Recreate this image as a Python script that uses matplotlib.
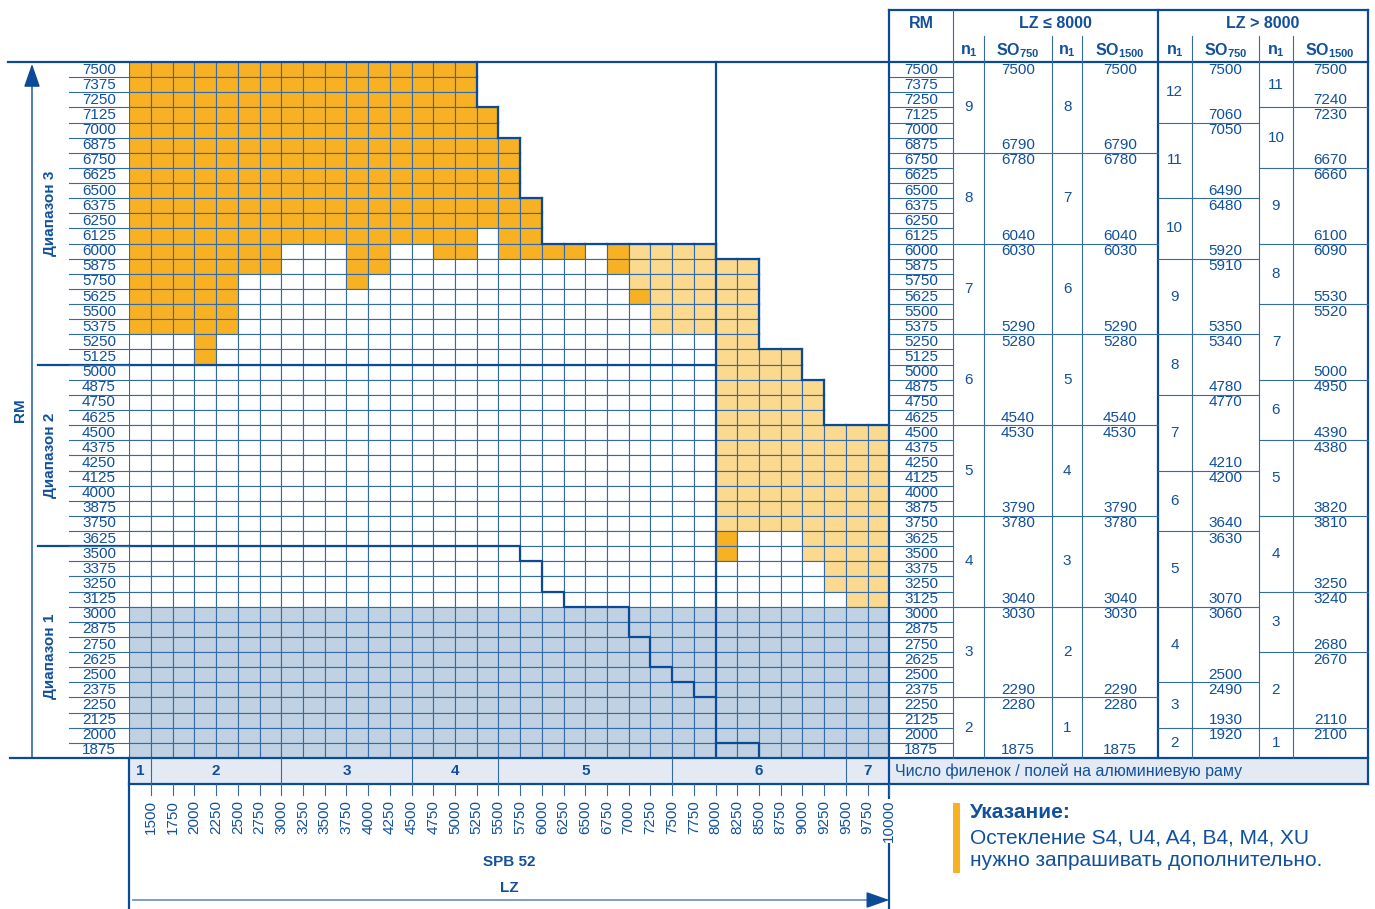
import matplotlib
matplotlib.use("Agg")
import matplotlib.pyplot as plt
from matplotlib.patches import Rectangle
from matplotlib.transforms import blended_transform_factory

plt.rcParams["font.family"] = ["Liberation Sans", "DejaVu Sans"]
plt.rcParams["mathtext.fontset"] = "custom"
plt.rcParams["mathtext.rm"] = "Liberation Sans"
plt.rcParams["mathtext.bf"] = "Liberation Sans:bold"

# rows (RM) and columns (LZ)
rm_rows = list(range(7500, 1874, -125))
lz_ticks = list(range(1500, 10001, 250))
lz_edges = [1250] + lz_ticks

# one string per RM row, one char per LZ column (1250-1500 ... 9750-10000)
# O = orange, o = light orange, B = blue, . = white cell, - = no cell
cell_map = [
    "OOOOOOOOOOOOOOOO-------------------",  # 7500
    "OOOOOOOOOOOOOOOO-------------------",  # 7375
    "OOOOOOOOOOOOOOOO-------------------",  # 7250
    "OOOOOOOOOOOOOOOOO------------------",  # 7125
    "OOOOOOOOOOOOOOOOO------------------",  # 7000
    "OOOOOOOOOOOOOOOOOO-----------------",  # 6875
    "OOOOOOOOOOOOOOOOOO-----------------",  # 6750
    "OOOOOOOOOOOOOOOOOO-----------------",  # 6625
    "OOOOOOOOOOOOOOOOOO-----------------",  # 6500
    "OOOOOOOOOOOOOOOOOOO----------------",  # 6375
    "OOOOOOOOOOOOOOOOOOO----------------",  # 6250
    "OOOOOOOOOOOOOOOO.OO----------------",  # 6125
    "OOOOOOO...OO..OO.OOOO.Ooooo--------",  # 6000
    "OOOOOOO...OO..........Ooooooo------",  # 5875
    "OOOOO.....O............oooooo------",  # 5750
    "OOOOO..................Oooooo------",  # 5625
    "OOOOO...................ooooo------",  # 5500
    "OOOOO...................ooooo------",  # 5375
    "...O.......................oo------",  # 5250
    "...O.......................oooo----",  # 5125
    "...........................oooo----",  # 5000
    "...........................ooooo---",  # 4875
    "...........................ooooo---",  # 4750
    "...........................ooooo---",  # 4625
    "...........................oooooooo",  # 4500
    "...........................oooooooo",  # 4375
    "...........................oooooooo",  # 4250
    "...........................oooooooo",  # 4125
    "...........................oooooooo",  # 4000
    "...........................oooooooo",  # 3875
    "...........................oooooooo",  # 3750
    "...........................O...oooo",  # 3625
    "...........................O...oooo",  # 3500
    "................................ooo",  # 3375
    "................................ooo",  # 3250
    ".................................oo",  # 3125
    "BBBBBBBBBBBBBBBBBBBBBBBBBBBBBBBBBBB",  # 3000
    "BBBBBBBBBBBBBBBBBBBBBBBBBBBBBBBBBBB",  # 2875
    "BBBBBBBBBBBBBBBBBBBBBBBBBBBBBBBBBBB",  # 2750
    "BBBBBBBBBBBBBBBBBBBBBBBBBBBBBBBBBBB",  # 2625
    "BBBBBBBBBBBBBBBBBBBBBBBBBBBBBBBBBBB",  # 2500
    "BBBBBBBBBBBBBBBBBBBBBBBBBBBBBBBBBBB",  # 2375
    "BBBBBBBBBBBBBBBBBBBBBBBBBBBBBBBBBBB",  # 2250
    "BBBBBBBBBBBBBBBBBBBBBBBBBBBBBBBBBBB",  # 2125
    "BBBBBBBBBBBBBBBBBBBBBBBBBBBBBBBBBBB",  # 2000
    "BBBBBBBBBBBBBBBBBBBBBBBBBBBBBBBBBBB",  # 1875
]
assert all(len(r) == len(lz_ticks) for r in cell_map) and len(cell_map) == len(rm_rows)

# limit lines
range_split_rm = [5062.5, 3562.5]
range1_lz = [1250, 5750, 5750, 6000, 6000, 6250, 6250, 7000, 7000, 7250, 7250, 7500, 7500, 7750, 7750, 8000]
range1_rm = [3562.5, 3562.5, 3437.5, 3437.5, 3187.5, 3187.5, 3062.5, 3062.5, 2812.5, 2812.5,
             2562.5, 2562.5, 2437.5, 2437.5, 2312.5, 2312.5]
corner_lz = [8000, 8500, 8500]
corner_rm = [1937.5, 1937.5, 1812.5]
range_names = ["Диапазон 3", "Диапазон 2", "Диапазон 1"]
range_mid_rm = [6312.5, 4312.5, 2650]

# panel count band
band_edges = [1250, 1500, 3000, 4500, 5500, 7500, 9500, 10000]
band_labels = ["1", "2", "3", "4", "5", "6", "7"]

# table: LZ <= 8000
le_sizes = [6, 6, 6, 6, 6, 6, 6, 4]
le_n1_750 = [9, 8, 7, 6, 5, 4, 3, 2]
le_n1_1500 = [8, 7, 6, 5, 4, 3, 2, 1]
le_so_top = [7500, 6780, 6030, 5280, 4530, 3780, 3030, 2280]
le_so_bot = [6790, 6040, 5290, 4540, 3790, 3040, 2290, 1875]
# table: LZ > 8000
gt_sizes_750 = [4, 5, 4, 5, 4, 5, 4, 5, 5, 3, 2]
gt_n1_750 = [12, 11, 10, 9, 8, 7, 6, 5, 4, 3, 2]
gt_so750_top = [7500, 7050, 6480, 5910, 5340, 4770, 4200, 3630, 3060, 2490, 1920]
gt_so750_bot = [7060, 6490, 5920, 5350, 4780, 4210, 3640, 3070, 2500, 1930, None]
gt_sizes_1500 = [3, 4, 5, 4, 5, 4, 5, 5, 4, 5, 2]
gt_n1_1500 = [11, 10, 9, 8, 7, 6, 5, 4, 3, 2, 1]
gt_so1500_top = [7500, 7230, 6660, 6090, 5520, 4950, 4380, 3810, 3240, 2670, 2100]
gt_so1500_bot = [7240, 6670, 6100, 5530, 5000, 4390, 3820, 3250, 2680, 2110, None]

# colours
TXT = "#11509c"
DARK = "#0b4a96"
GRID = "#356aa9"
fills = {"O": "#f7b122", "o": "#fbd98f", "B": "#bfd1e3", ".": "white"}
BAND = "#e3eaf3"

W, H = 1375, 909
GL, GR, GT, GB = 129.3, 889.3, 62, 758
TR = 1367.7
tcols = [889.3, 953.3, 984, 1052, 1082.3, 1157.7, 1191.7, 1259.3, 1292.7, 1367.7]

fig = plt.figure(figsize=(W / 100, H / 100), dpi=100)
ax = fig.add_axes([GL / W, 1 - GB / H, (GR - GL) / W, (GB - GT) / H])
half = (rm_rows[0] - rm_rows[1]) / 2
ax.set_xlim(lz_edges[0], lz_edges[-1])
ax.set_ylim(rm_rows[-1] - half, rm_rows[0] + half)
ax.axis("off")

ov = fig.add_axes([0, 0, 1, 1], zorder=5)
ov.set_xlim(0, W)
ov.set_ylim(H, 0)
ov.axis("off")
ov.patch.set_alpha(0)

bt = blended_transform_factory(ov.transData, ax.transData)  # x pixels, y RM
bx = blended_transform_factory(ax.transData, ov.transData)  # x LZ, y pixels

tk = dict(color=TXT, fontsize=11)
thin = dict(color=GRID, lw=0.8, clip_on=False)
thick = dict(color=DARK, lw=1.6, clip_on=False, solid_capstyle="projecting")

# cells
ncol = len(lz_ticks)
for i, (rm, row) in enumerate(zip(rm_rows, cell_map)):
    for j, ch in enumerate(row):
        if ch == "-":
            continue
        x0, x1 = lz_edges[j], lz_edges[j + 1]
        ax.add_patch(Rectangle((x0, rm - half), x1 - x0, 2 * half,
                               fc=fills[ch], ec=GRID, lw=0.8))
        if j + 1 < ncol and row[j + 1] == "-":
            ax.plot([x1, x1], [rm - half, rm + half], **thick)
        if i > 0 and cell_map[i - 1][j] == "-":
            ax.plot([x0, x1], [rm + half, rm + half], **thick)

ax.axvline(8000, **thick)
ax.plot([lz_edges[0], 8000], [range_split_rm[0]] * 2, **thick)
ax.plot(range1_lz, range1_rm, **thick)
ax.plot(corner_lz, corner_rm, **thick)
for y in range_split_rm:
    ov.plot([38, GL], [y, y], transform=bt, **thick)

# left labels
for k, rm in enumerate(rm_rows):
    ov.text(116, rm, str(rm), transform=bt, ha="right", va="center", **tk)
    ov.text((tcols[0] + tcols[1]) / 2, rm, str(rm), transform=bt, ha="center", va="center", **tk)
    if k < len(rm_rows) - 1:
        ov.plot([69, GL], [rm - half] * 2, transform=bt, **thin)
        ov.plot([tcols[0], tcols[1]], [rm - half] * 2, transform=bt, **thin)

for name, y in zip(range_names, range_mid_rm):
    ov.text(50, y, name, transform=bt, rotation=90, ha="center", va="center",
            fontweight="bold", **tk)
ov.text(20, sum(ax.get_ylim()) / 2, "RM", transform=bt, rotation=90, ha="center",
        va="center", fontweight="bold", **tk)
ov.annotate("", xy=(32, 64), xytext=(32, GB),
            arrowprops=dict(arrowstyle="-|>,head_length=0.8,head_width=0.28",
                            color=DARK, lw=1.0, mutation_scale=18, shrinkA=0, shrinkB=0))

# frame lines
ov.plot([8, TR], [GT, GT], **thick)
ov.plot([10, TR], [GB, GB], **thick)
ov.plot([tcols[0], TR], [10, 10], **thick)
ov.plot([tcols[0], tcols[0]], [10, 909], **thick)
ov.plot([TR, TR], [10, 784], **thick)
ov.plot([GL, GL], [GB, 909], **thick)
ov.plot([tcols[1], tcols[1]], [10, GB], **thin)
ov.plot([tcols[5], tcols[5]], [10, GB], **thick)
for c in [tcols[2], tcols[3], tcols[4], tcols[6], tcols[7], tcols[8]]:
    ov.plot([c, c], [36, GB], **thin)

# table header
hb = dict(color=TXT, fontsize=11.5, fontweight="bold", ha="center", va="center")
ov.text((tcols[0] + tcols[1]) / 2, 23, "RM", **hb)
ov.text((tcols[1] + tcols[5]) / 2, 23, "LZ ≤ 8000", **hb)
ov.text((tcols[5] + tcols[9]) / 2, 23, "LZ > 8000", **hb)
for a in [1, 3, 5, 7]:
    ov.text((tcols[a] + tcols[a + 1]) / 2, 51, r"$\mathbf{n}_{\mathbf{1}}$", **hb)
for a, sub in [(2, "750"), (4, "1500"), (6, "750"), (8, "1500")]:
    ov.text((tcols[a] + tcols[a + 1]) / 2, 51, r"$\mathbf{SO}_{\mathbf{%s}}$" % sub, **hb)


def draw_groups(c_n1, c_so, sizes, n1_vals, tops, bots):
    start = 0
    x_n1 = (tcols[c_n1] + tcols[c_n1 + 1]) / 2
    x_so = (tcols[c_so] + tcols[c_so + 1]) / 2
    for size, n, top, bot in zip(sizes, n1_vals, tops, bots):
        rows = rm_rows[start:start + size]
        ov.text(x_n1, (rows[0] + rows[-1]) / 2, str(n), transform=bt,
                ha="center", va="center", **tk)
        ov.text(x_so, rows[0], str(top), transform=bt, ha="center", va="center", **tk)
        if bot is not None:
            ov.text(x_so, rows[-1], str(bot), transform=bt, ha="center", va="center", **tk)
        start += size
        if start < len(rm_rows):
            y = rows[-1] - half
            ov.plot([tcols[c_n1], tcols[c_so + 1]], [y, y], transform=bt, **thin)


draw_groups(1, 2, le_sizes, le_n1_750, le_so_top, le_so_bot)
draw_groups(3, 4, le_sizes, le_n1_1500, le_so_top, le_so_bot)
draw_groups(5, 6, gt_sizes_750, gt_n1_750, gt_so750_top, gt_so750_bot)
draw_groups(7, 8, gt_sizes_1500, gt_n1_1500, gt_so1500_top, gt_so1500_bot)

# band with panel counts
ov.add_patch(Rectangle((GL, GB), TR - GL, 26, fc=BAND, ec="none", zorder=0))
ov.plot([GL, TR], [784, 784], **thick)
for e in band_edges[1:-1]:
    ov.plot([e, e], [GB, 784], transform=bx, **thin)
for e0, e1, lab in zip(band_edges[:-1], band_edges[1:], band_labels):
    ov.text((e0 + e1) / 2, 771, lab, transform=bx, ha="center", va="center",
            fontweight="bold", **tk)
ov.text(895, 771, "Число филенок / полей на алюминиевую раму", ha="left",
        va="center", color=TXT, fontsize=11.5)

# LZ axis
for lz in lz_ticks:
    ov.plot([lz, lz], [784, 795], transform=bx, **thin)
    ov.text(lz, 800, str(lz), transform=bx, rotation=90, ha="center", va="top",
            bbox=dict(fc="white", ec="none", pad=0.5) if lz == lz_ticks[-1] else None, **tk)
mid = (lz_edges[0] + lz_edges[-1]) / 2
ov.text(mid, 862, "SPB 52", transform=bx, ha="center", va="center", fontweight="bold", **tk)
ov.text(mid, 888, "LZ", transform=bx, ha="center", va="center", fontweight="bold", **tk)
ov.plot([133, 880], [900, 900], color="#7d9dc9", lw=1.4)
ov.annotate("", xy=(GR, 900), xytext=(870, 900),
            arrowprops=dict(arrowstyle="-|>,head_length=0.8,head_width=0.28",
                            color=DARK, lw=1.0, mutation_scale=18, shrinkA=0, shrinkB=0))

# note
ov.add_patch(Rectangle((953, 803), 7, 70, fc=fills["O"], ec="none"))
ov.text(970, 812, "Указание:", ha="left", va="center", color=TXT, fontsize=15, fontweight="bold")
ov.text(970, 838, "Остекление S4, U4, A4, B4, M4, XU", ha="left", va="center", color=TXT, fontsize=15)
ov.text(970, 861, "нужно запрашивать дополнительно.", ha="left", va="center", color=TXT, fontsize=15)

fig.savefig("out.png", dpi=100)
